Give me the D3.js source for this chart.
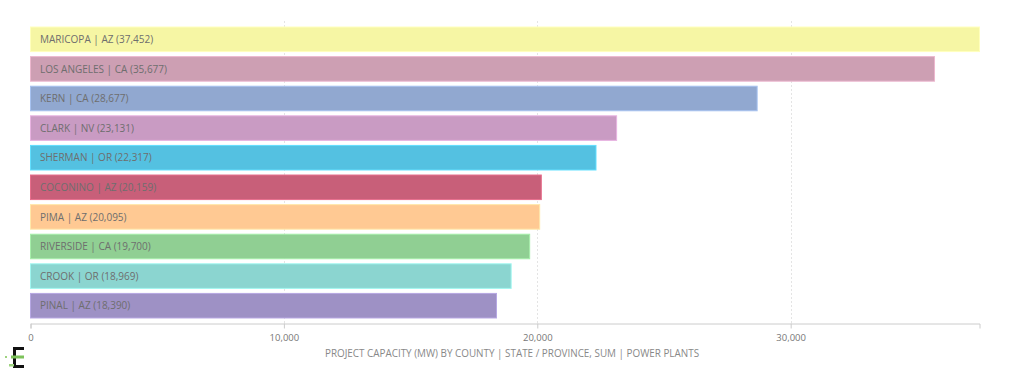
<!DOCTYPE html>
<html><head><meta charset="utf-8">
<script src="https://cdn.jsdelivr.net/npm/d3@7"></script>
<style>
body{margin:0;background:#fff;}
svg{display:block;font-family:"Open Sans","Noto Sans",sans-serif;}
</style></head>
<body>
<svg id="chart" width="1024" height="378"></svg>
<script>
const counties = ["MARICOPA","LOS ANGELES","KERN","CLARK","SHERMAN","COCONINO","PIMA","RIVERSIDE","CROOK","PINAL"];
const states = ["AZ","CA","CA","NV","OR","AZ","AZ","CA","OR","AZ"];
const capacity = [37452,35677,28677,23131,22317,20159,20095,19700,18969,18390];
const colors = ["#f6f6a4","#cd9fb3","#91a8d0","#c99bc3","#54c1e1","#c85f79","#ffc993","#90cf93","#8bd5d0","#9e91c5"];
const tickValues = [0,10000,20000,30000];
const axisTitle = "PROJECT CAPACITY (MW) BY COUNTY | STATE / PROVINCE, SUM | POWER PLANTS";

(function(){
const svg = d3.select("#chart");
const mLeft = 30.5, mRight = 979.5, mTop = 24.5, mBottom = 320.5, axisY = 323.5;
const x = d3.scaleLinear().domain([0, d3.max(capacity)]).range([mLeft, mRight]);
const y = d3.scaleBand().domain(counties).range([mTop, mBottom]).paddingInner(0.17).paddingOuter(0.085);

// gridlines
svg.append("g").selectAll("line").data(tickValues.filter(d=>d>0)).join("line")
  .attr("x1", d=>Math.round(x(d))+0.5).attr("x2", d=>Math.round(x(d))+0.5)
  .attr("y1", 21).attr("y2", axisY)
  .attr("stroke", "#e4e4e4").attr("stroke-dasharray", "2,2");

// bars
const data = counties.map((c,i)=>({c, s:states[i], v:capacity[i], col:colors[i]}));
svg.append("g").selectAll("rect").data(data).join("rect")
  .attr("x", x(0)).attr("y", d=>y(d.c))
  .attr("width", d=>x(d.v)-x(0)).attr("height", y.bandwidth())
  .attr("fill", d=>d.col)
  .attr("stroke", d=>d3.color(d.col).brighter(0.4)).attr("stroke-width", 1);

// labels
svg.append("g").selectAll("text").data(data).join("text")
  .attr("x", 40).attr("y", d=>y(d.c)+y.bandwidth()/2)
  .attr("dy", "0.36em")
  .attr("font-size", "10px").attr("fill", "#6e6e6e")
  .text(d=>`${d.c} | ${d.s} (${d3.format(",")(d.v)})`);

// axis
const axis = d3.axisBottom(x).tickValues(tickValues).tickFormat(d3.format(",")).tickSize(5).tickSizeOuter(5);
const gA = svg.append("g").attr("transform", `translate(0,${axisY})`).call(axis);
gA.select(".domain").attr("stroke", "#cccccc");
gA.selectAll(".tick line").attr("stroke", "#cccccc");
gA.selectAll(".tick text").attr("fill", "#777").attr("font-size", "9.5px")
  .attr("font-family", "'Open Sans','Noto Sans',sans-serif").attr("dy", "0.95em");

// axis title
svg.append("text").attr("x", 512).attr("y", 356.5).attr("text-anchor", "middle")
  .attr("font-size", "9.9px").attr("fill", "#888").text(axisTitle);

// logo
const logo = svg.append("g");
logo.append("rect").attr("x",13).attr("y",347).attr("width",11).attr("height",3).attr("fill","#111");
logo.append("rect").attr("x",13).attr("y",347).attr("width",3).attr("height",21).attr("fill","#111");
logo.append("rect").attr("x",16).attr("y",365).attr("width",8).attr("height",3).attr("fill","#111");
logo.append("rect").attr("x",11).attr("y",355.5).attr("width",13).attr("height",3).attr("fill","#7cc25a");
logo.append("rect").attr("x",9).attr("y",364).attr("width",5).attr("height",2.5).attr("fill","#9ed37f");
logo.append("rect").attr("x",5).attr("y",356).attr("width",2).attr("height",2).attr("fill","#9ed37f");
})();
</script>
</body></html>
